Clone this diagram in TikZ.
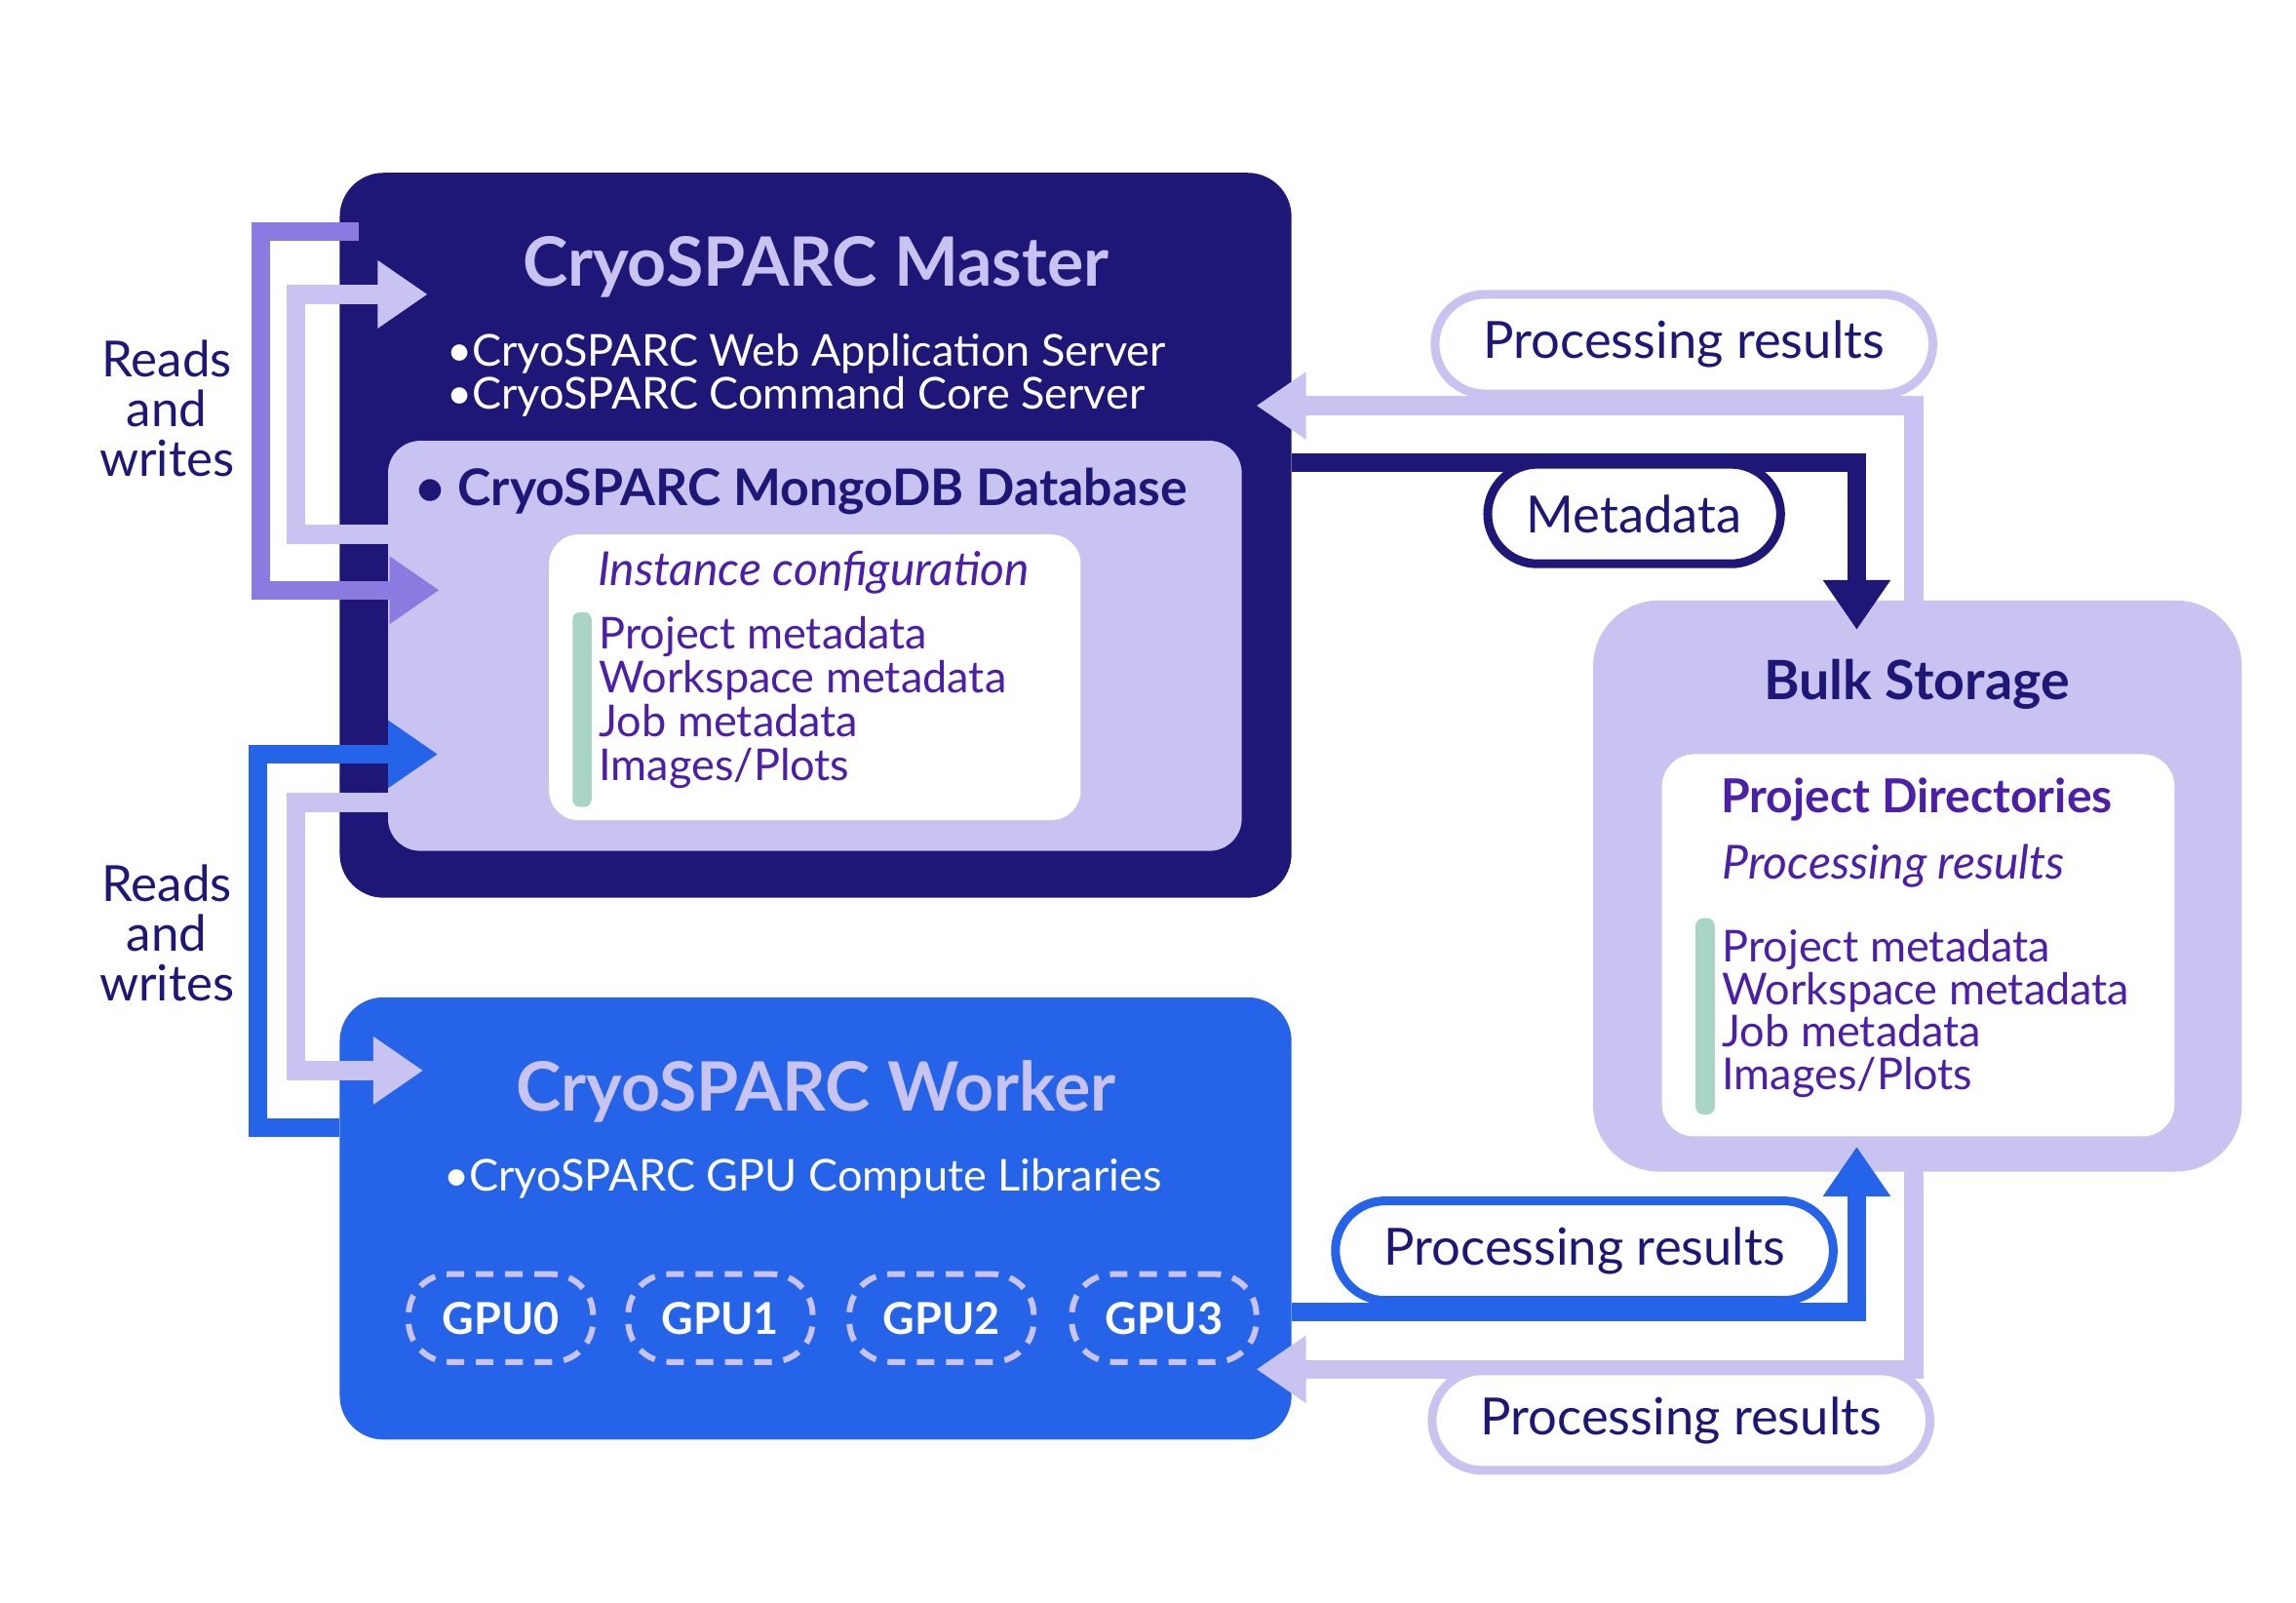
\documentclass[tikz,border=0pt]{standalone}
\usepackage{fontspec}
\setmainfont{Lato}
\usetikzlibrary{arrows.meta}
\definecolor{navy}{HTML}{1E1777}
\definecolor{lav}{HTML}{C8C3F0}
\definecolor{mpur}{HTML}{8B7BE0}
\definecolor{blu}{HTML}{2563E8}
\definecolor{ptxt}{HTML}{4B1FA8}
\definecolor{grn}{HTML}{A8D5C5}
\newcommand{\fs}[1]{\fontsize{#1}{#1}\selectfont}
\begin{document}
\begin{tikzpicture}[x=1pt,y=-1pt,
  arr/.style={line width=13pt,-{Triangle[length=34pt,width=44pt]}},
  pill/.style={draw,line width=6pt,fill=white,rounded corners=34pt,minimum width=340pt,minimum height=68pt,text=navy,font=\fs{35}},
  lt/.style={anchor=west,text=ptxt,font=\fs{30},inner sep=0pt,text height=20pt,text depth=6pt},
  gpu/.style={draw=lav,dashed,dash pattern=on 12pt off 8pt,line width=4pt,rounded corners=28pt,minimum width=126pt,minimum height=60pt,text=white,font=\bfseries\fs{30}},
  rw/.style={text=navy,font=\fs{34},align=center,inner sep=0pt}]
\useasboundingbox (0,0) rectangle (1568,1094);
% boxes
\node[fill=navy,rounded corners=30pt,minimum width=650pt,minimum height=495pt,inner sep=0pt] (master) at (557,365.5) {};
\node[fill=blu,rounded corners=30pt,minimum width=650pt,minimum height=302pt,inner sep=0pt] (worker) at (557,832) {};
\node[fill=lav,rounded corners=22pt,minimum width=583pt,minimum height=280pt,inner sep=0pt] (mongo) at (556.5,441) {};
\node[fill=white,rounded corners=20pt,minimum width=363pt,minimum height=195pt,inner sep=0pt] (inst) at (556.5,462.5) {};
\node[fill=lav,rounded corners=45pt,minimum width=443pt,minimum height=390pt,inner sep=0pt] (bulk) at (1309.5,605) {};
\node[fill=white,rounded corners=22pt,minimum width=350pt,minimum height=261pt,inner sep=0pt] (pd) at (1310,645.5) {};
% texts master
\node[text=lav,font=\bfseries\fs{46.5}] (mt) at (557,182) {CryoSPARC Master};
\node[lt,text=white] (m1) at (305,243) {•CryoSPARC Web Application Server};
\node[lt,text=white] (m2) at (305,272) {•CryoSPARC Command Core Server};
\node[lt,text=navy,font=\bfseries\fs{34.5}] (mg) at (284,338) {• CryoSPARC MongoDB Database};
\node[lt,font=\itshape\fs{32}] (ic) at (408,393) {Instance configuration};
\fill[grn,rounded corners=5pt] (391,418) rectangle (404,551);
\node[lt] (l1) at (409,436) {Project metadata};
\node[lt] (l2) at (409,466) {Workspace metadata};
\node[lt] (l3) at (409,496) {Job metadata};
\node[lt] (l4) at (409,526) {Images/Plots};
% worker
\node[text=lav,font=\bfseries\fs{46.5}] (wt) at (557,745) {CryoSPARC Worker};
\node[lt,text=white] (w1) at (303,806) {•CryoSPARC GPU Compute Libraries};
\node[gpu] (g0) at (342,900) {GPU0};
\node[gpu] (g1) at (492,900) {GPU1};
\node[gpu] (g2) at (643,900) {GPU2};
\node[gpu] (g3) at (795,900) {GPU3};
% bulk
\node[text=navy,font=\bfseries\fs{37}] (bt) at (1309,467) {Bulk Storage};
\node[text=ptxt,font=\bfseries\fs{32}] (pdt) at (1309,546) {Project Directories};
\node[lt,font=\itshape\fs{32}] (pr) at (1176,593) {Processing results};
\fill[grn,rounded corners=5pt] (1158,627) rectangle (1171,761);
\node[lt] (b1) at (1176,650) {Project metadata};
\node[lt] (b2) at (1176,679) {Workspace metadata};
\node[lt] (b3) at (1176,708) {Job metadata};
\node[lt] (b4) at (1176,737) {Images/Plots};
% left labels
\node[rw] (rw1) at (114,279) {Reads\\and\\writes};
\node[rw] (rw2) at (114,637) {Reads\\and\\writes};
% left arrows
\coordinate (a1s) at (245,158); \coordinate (a1e) at (300,403);
\draw[arr,mpur] (a1s) -- (178,158) -- (178,403) -- (a1e);
\coordinate (a2s) at (265,365); \coordinate (a2e) at (292,201);
\draw[arr,lav] (a2s) -- (202,365) -- (202,201) -- (a2e);
\coordinate (a3s) at (232,770); \coordinate (a3e) at (299,515);
\draw[arr,blu] (a3s) -- (176,770) -- (176,515) -- (a3e);
\coordinate (a4s) at (265,548); \coordinate (a4e) at (289,731);
\draw[arr,lav] (a4s) -- (202,548) -- (202,731) -- (a4e);
% right arrows
\coordinate (r1s) at (1307,411); \coordinate (r1e) at (858,277);
\draw[arr,lav] (r1s) -- (1307,277) -- (r1e);
\coordinate (r2s) at (882,316); \coordinate (r2e) at (1268,430);
\draw[arr,navy] (r2s) -- (1268,316) -- (r2e);
\coordinate (r3s) at (882,896); \coordinate (r3e) at (1268,783);
\draw[arr,blu] (r3s) -- (1268,896) -- (r3e);
\coordinate (r4s) at (1307,799); \coordinate (r4e) at (858,935);
\draw[arr,lav] (r4s) -- (1307,935) -- (r4e);
% pills
\node[pill,draw=lav] (p1) at (1150,235) {Processing results};
\node[pill,draw=navy,minimum width=200pt] (p2) at (1116,351) {Metadata};
\node[pill,draw=blu] (p3) at (1082,854) {Processing results};
\node[pill,draw=lav] (p4) at (1148,970) {Processing results};
\end{tikzpicture}
\end{document}
